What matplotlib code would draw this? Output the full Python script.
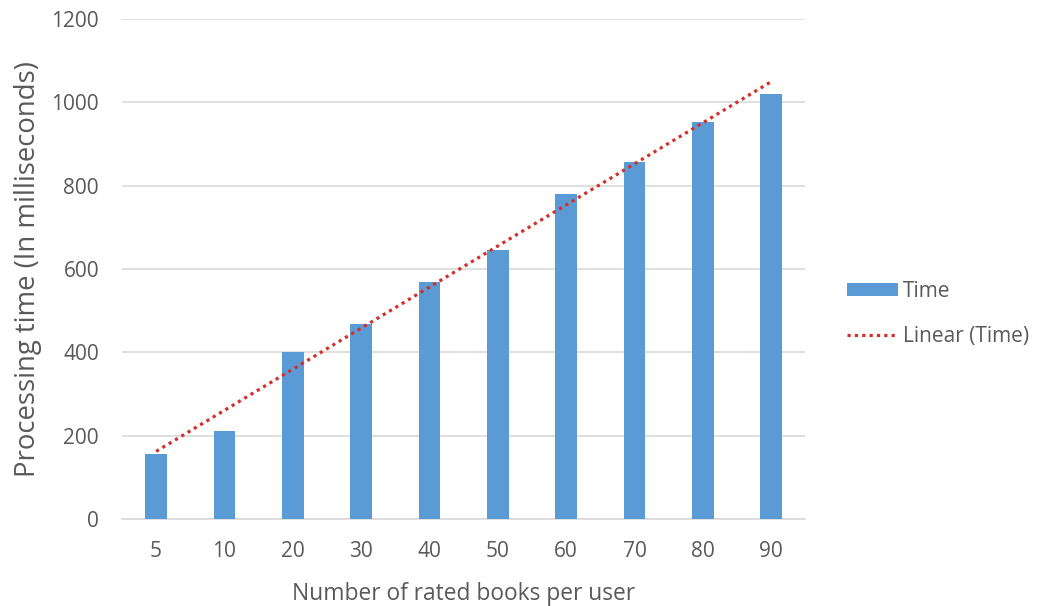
import numpy as np
import matplotlib
matplotlib.use("Agg")
import matplotlib.pyplot as plt
from matplotlib.patches import Patch
from matplotlib.lines import Line2D

# Processing time per number of rated books
categories = ["5", "10", "20", "30", "40", "50", "60", "70", "80", "90"]
times_ms = [155, 212, 400, 469, 568, 645, 780, 857, 953, 1020]
y_ticks = [0, 200, 400, 600, 800, 1000, 1200]

BAR = "#5B9BD5"
TREND = "#D42F2B"
TEXT = "#595959"
GRID = "#D9D9D9"
DOTS = (0, (1, 1.3))

plt.rcParams["font.family"] = ["Open Sans", "DejaVu Sans"]

fig = plt.figure(figsize=(10.37, 6.06), dpi=100)
ax = fig.add_axes([0.1176, 0.1436, 0.6590, 0.8250])

x = np.arange(len(categories))
ax.bar(x, times_ms, width=0.32, color=BAR, zorder=3)

# Least-squares linear trend over the category index
slope, intercept = np.polyfit(x, times_ms, 1)
trend = slope * x + intercept
ax.plot(x, trend, color=TREND, lw=2.3, linestyle=DOTS, zorder=4)

ax.set_xlim(-0.5, len(categories) - 0.5)
ax.set_ylim(0, 1200)
ax.set_yticks(y_ticks)
ax.set_xticks(x)
ax.set_xticklabels(categories)
ax.yaxis.grid(True, color=GRID, lw=1.2, zorder=0)
ax.set_axisbelow(True)
for s in ("top", "right", "left"):
    ax.spines[s].set_visible(False)
ax.spines["bottom"].set_color(GRID)
ax.spines["bottom"].set_linewidth(1.2)
ax.tick_params(axis="both", length=0, labelsize=15, colors=TEXT)
ax.tick_params(axis="x", pad=15.5)
ax.tick_params(axis="y", pad=16.5)

ax.set_xlabel("Number of rated books per user", fontsize=16.4, color=TEXT, labelpad=14.5)
ax.set_ylabel("Processing time (In milliseconds)", fontsize=19.8, color=TEXT, labelpad=6.5)

handles = [
    Patch(facecolor=BAR, edgecolor="none", label="Time"),
    Line2D([0], [0], color=TREND, lw=2.3, linestyle=DOTS, label="Linear (Time)"),
]
fig.legend(handles=handles, loc="center left", bbox_to_anchor=(847 / 1037, 0.4818),
           frameon=False, fontsize=15, labelcolor=TEXT, handlelength=2.45,
           handleheight=0.62, handletextpad=0.25, labelspacing=1.15,
           borderpad=0, borderaxespad=0)

fig.savefig("out.png", dpi=100)
